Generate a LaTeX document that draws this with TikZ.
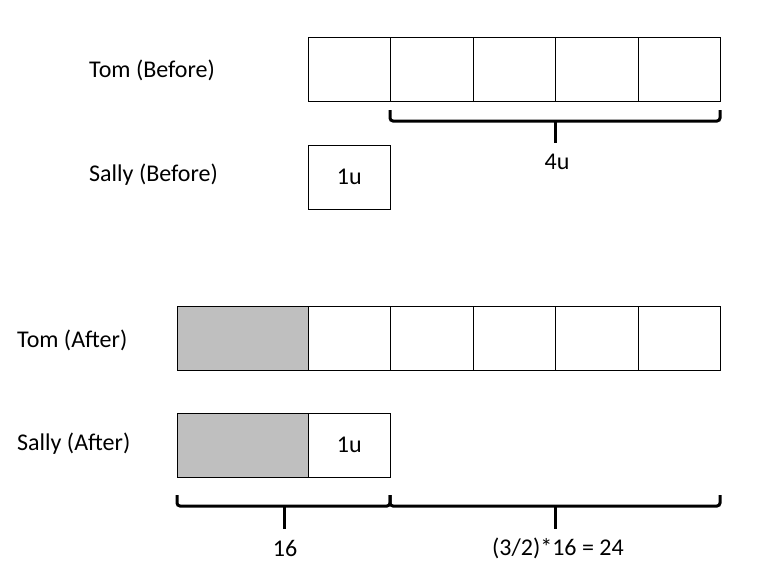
\documentclass[tikz,border=0pt]{standalone}
\usepackage{fontspec}
\setmainfont{Carlito}
\begin{document}
\begin{tikzpicture}[x=1pt,y=-1pt,
  cell/.style={draw, line width=1pt, minimum width=82.5pt, minimum height=64pt, inner sep=0pt, outer sep=0pt, anchor=north west, font=\fontsize{24}{28}\selectfont},
  wide/.style={cell, minimum width=131pt},
  shade/.style={fill={rgb,255:red,191;green,191;blue,191}},
  lbl/.style={anchor=west, inner sep=0pt, font=\fontsize{24}{28}\selectfont},
  val/.style={inner sep=0pt, font=\fontsize{24}{28}\selectfont},
  brace/.style={line width=3pt, rounded corners=3pt}]
\useasboundingbox (0,0) rectangle (761,579);
% labels
\node[lbl] (ltb) at (89,70) {Tom (Before)};
\node[lbl] (lsb) at (89,175) {Sally (Before)};
\node[lbl] (lta) at (17,340) {Tom (After)};
\node[lbl] (lsa) at (17,444) {Sally (After)};
% Tom before
\node[cell] (tb1) at (308,37) {};
\node[cell] (tb2) at (390.5,37) {};
\node[cell] (tb3) at (473,37) {};
\node[cell] (tb4) at (555.5,37) {};
\node[cell] (tb5) at (638,37) {};
% Sally before
\node[cell] (sb1) at (308,145) {1u};
% Tom after
\node[wide,shade] (ta0) at (177,306) {};
\node[cell] (ta1) at (308,306) {};
\node[cell] (ta2) at (390.5,306) {};
\node[cell] (ta3) at (473,306) {};
\node[cell] (ta4) at (555.5,306) {};
\node[cell] (ta5) at (638,306) {};
% Sally after
\node[wide,shade] (sa0) at (177,413) {};
\node[cell] (sa1) at (308,413) {1u};
% top brace
\draw[brace] (390,110) -- (390,121) -- (720,121) -- (720,110);
\draw[line width=3pt] (555,121) -- (555,143);
\node[val] (b4u) at (557,162) {4u};
% bottom braces
\draw[brace] (177,495) -- (177,506) -- (390,506) -- (390,495);
\draw[brace] (390,495) -- (390,506) -- (720,506) -- (720,495);
\draw[line width=3pt] (284,506) -- (284,529);
\draw[line width=3pt] (555,506) -- (555,529);
\node[val] (b16) at (285,548) {16};
\node[val] (b24) at (558,548) {(3/2)*16 = 24};
\end{tikzpicture}
\end{document}
